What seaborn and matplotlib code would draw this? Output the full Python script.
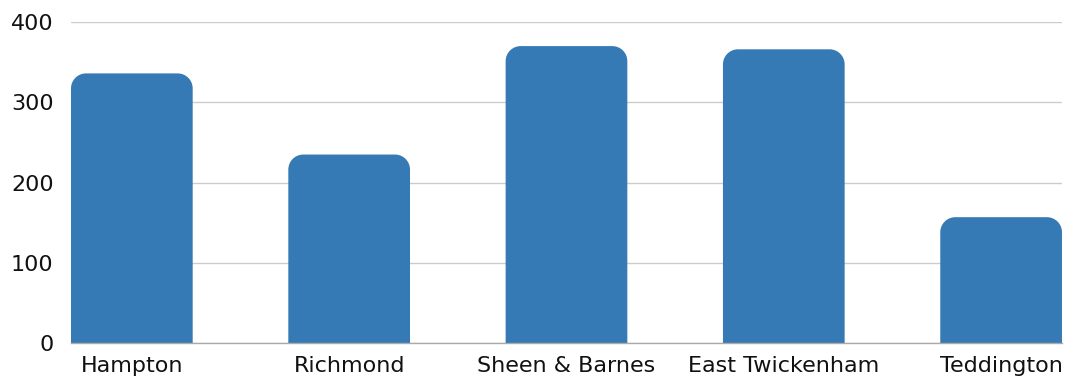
import matplotlib
matplotlib.use("Agg")
import matplotlib.pyplot as plt
from matplotlib.path import Path
from matplotlib.patches import PathPatch
import seaborn as sns
import pandas as pd

areas = ["Hampton", "Richmond", "Sheen & Barnes", "East Twickenham", "Teddington"]
counts = [336, 235, 370, 366, 157]
y_ticks = [0, 100, 200, 300, 400]

BAR_COLOR = "#367ab5"
CORNER_PX = 15

sns.set_theme(style="white")
plt.rcParams["font.family"] = ["DejaVu Sans"]

df = pd.DataFrame({"area": areas, "count": counts})

fig = plt.figure(figsize=(10.74, 3.78), dpi=100)
ax = fig.add_axes([0.0661, 0.0918, 0.9227, 0.85])

sns.barplot(data=df, x="area", y="count", color=BAR_COLOR, saturation=1,
            width=0.56, ax=ax, zorder=3)

ax.set_xlim(-0.28, len(areas) - 1 + 0.28)
ax.set_ylim(0, 400)
ax.set_yticks(y_ticks)
ax.set_xlabel("")
ax.set_ylabel("")

ax.yaxis.grid(True, color="#cccccc", linewidth=1, zorder=0)
ax.set_axisbelow(True)
for side in ["top", "right", "left"]:
    ax.spines[side].set_visible(False)
ax.spines["bottom"].set_color("#aaaaaa")
ax.spines["bottom"].set_linewidth(1)
ax.spines["bottom"].set_zorder(4)

ax.tick_params(axis="x", length=0, pad=9, labelsize=16, labelcolor="#111111")
ax.tick_params(axis="y", length=0, pad=12.5, labelsize=16, labelcolor="#111111")

# Replace the square bars with bars whose top corners are rounded
fig.canvas.draw()
bbox = ax.get_window_extent()
x0, x1 = ax.get_xlim()
y0, y1 = ax.get_ylim()
rx = CORNER_PX * (x1 - x0) / bbox.width
ry = CORNER_PX * (y1 - y0) / bbox.height
k = 0.5523

for bar in list(ax.patches):
    bx, by = bar.get_x(), bar.get_y()
    bw, bh = bar.get_width(), bar.get_height()
    top = by + bh
    verts = [
        (bx, by),
        (bx, top - ry),
        (bx, top - ry + k * ry), (bx + rx - k * rx, top), (bx + rx, top),
        (bx + bw - rx, top),
        (bx + bw - rx + k * rx, top), (bx + bw, top - ry + k * ry), (bx + bw, top - ry),
        (bx + bw, by),
        (bx, by),
    ]
    codes = [Path.MOVETO, Path.LINETO,
             Path.CURVE4, Path.CURVE4, Path.CURVE4,
             Path.LINETO,
             Path.CURVE4, Path.CURVE4, Path.CURVE4,
             Path.LINETO, Path.CLOSEPOLY]
    ax.add_patch(PathPatch(Path(verts, codes), facecolor=BAR_COLOR,
                           edgecolor="none", zorder=3))
    bar.remove()

fig.savefig("out.png", dpi=100)
